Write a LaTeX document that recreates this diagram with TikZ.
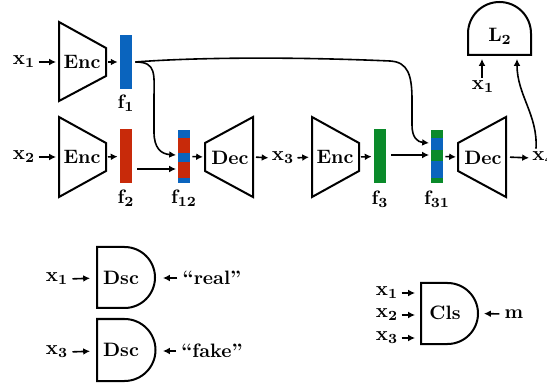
\documentclass[tikz,border=0pt]{standalone}
\usetikzlibrary{arrows.meta}
\definecolor{fblue}{HTML}{0A64BE}
\definecolor{fred}{HTML}{C82A0A}
\definecolor{fgreen}{HTML}{0A8A2A}
\begin{document}
\begin{tikzpicture}[x=0.5pt,y=-0.5pt,
  font=\fontsize{9.7}{11}\selectfont\bfseries\boldmath,
  shp/.style={line width=1pt, line join=miter},
  arr/.style={line width=0.8pt, -{Latex[length=3.4pt,width=3.4pt]}},
  lbl/.style={inner sep=0pt},
  bar/.style={inner sep=0pt, minimum width=6pt, minimum height=27pt, draw=none}]
\useasboundingbox (0,0) rectangle (547,385);

% ---------- shapes ----------
\draw[shp] (59,22) -- (106,48) -- (106,76) -- (59,101) -- cycle;
\draw[shp] (59,117) -- (106,143) -- (106,171) -- (59,197) -- cycle;
\draw[shp] (205,143) -- (253,117) -- (253,197) -- (205,171) -- cycle;
\draw[shp] (312,117) -- (359,143) -- (359,171) -- (312,197) -- cycle;
\draw[shp] (458,143) -- (506,117) -- (506,197) -- (458,171) -- cycle;

\coordinate (enc1in) at (59,62);  \coordinate (enc1out) at (106,62);
\coordinate (enc2in) at (59,157); \coordinate (enc2out) at (106,157);
\coordinate (dec1in) at (205,157); \coordinate (dec1out) at (253,157);
\coordinate (enc3in) at (312,157); \coordinate (enc3out) at (359,157);
\coordinate (dec2in) at (458,157); \coordinate (dec2out) at (506,157);

\node[lbl] (enc1) at (82,62) {Enc};
\node[lbl] (enc2) at (82,157) {Enc};
\node[lbl] (dec1) at (230,158) {Dec};
\node[lbl] (enc3) at (335,157) {Enc};
\node[lbl] (dec2) at (483,158) {Dec};

% ---------- feature bars ----------
\node[bar, fill=fblue] (f1) at (126,62) {};
\node[bar, fill=fred] (f2) at (126,156.5) {};
\node[bar] (f12) at (184,156.5) {};
\fill[fblue] (178,130) rectangle (190,138);
\fill[fred]  (178,138) rectangle (190,153);
\fill[fblue] (178,153) rectangle (190,162);
\fill[fred]  (178,162) rectangle (190,178);
\fill[fblue] (178,178) rectangle (190,183);
\node[bar, fill=fgreen] (f3) at (380,156.5) {};
\node[bar] (f31) at (437,156.5) {};
\fill[fgreen] (431,130) rectangle (443,138);
\fill[fblue]  (431,138) rectangle (443,150);
\fill[fgreen] (431,150) rectangle (443,161);
\fill[fblue]  (431,161) rectangle (443,178);
\fill[fgreen] (431,178) rectangle (443,183);

\node[lbl] (lf1) at (126,103) {f$_1$};
\node[lbl] (lf2) at (126,198) {f$_2$};
\node[lbl] (lf12) at (184,198) {f$_{12}$};
\node[lbl] (lf3) at (380,199) {f$_3$};
\node[lbl] (lf31) at (437,199) {f$_{31}$};

% ---------- input / output labels ----------
\node[lbl] (x1a) at (24,62) {$\mathbf{x}_1$};
\node[lbl] (x2a) at (24,157) {$\mathbf{x}_2$};
\node[lbl] (x3a) at (283,158) {$\mathbf{x}_3$};
\node[lbl, anchor=west] (x4a) at (532,158) {$\mathbf{x}_4$};

\draw[arr, shorten <=1.5pt, shorten >=1.5pt] (x1a.east) -- (enc1in);
\draw[arr, shorten <=1.5pt, shorten >=1.5pt] (x2a.east) -- (enc2in);
\draw[arr, shorten <=1pt, shorten >=1pt] (enc1out) -- (f1.west);
\draw[arr, shorten <=1pt, shorten >=1pt] (enc2out) -- (f2.west);
\draw[arr, shorten <=1pt, shorten >=1pt] (f12.east) -- (dec1in);
\draw[arr, shorten <=1.5pt, shorten >=1.5pt] (dec1out) -- (x3a.west);
\draw[arr, shorten <=1.5pt, shorten >=1.5pt] (x3a.east) -- (enc3in);
\draw[arr, shorten <=1pt, shorten >=1pt] (enc3out) -- (f3.west);
\draw[arr, shorten <=1pt, shorten >=1pt] (f31.east) -- (dec2in);
\draw[arr, shorten <=2pt, shorten >=1.5pt] (dec2out) -- (x4a.west);

\coordinate (f12a) at (176,155);
\coordinate (f12b) at (176,169);
\coordinate (f31a) at (429,143);
\coordinate (f31b) at (429,155);
\draw[arr] (f2.east |- f12b) ++(2.5pt,0) -- (f12b);
\draw[arr] (f3.east |- f31b) ++(2.5pt,0) -- (f31b);

\draw[arr] ([xshift=1.5pt]f1.east) .. controls (157,62) and (154,74) .. (154,100)
  -- (154,132) .. controls (154,148) and (161,154) .. (f12a);
\draw[arr] ([xshift=1.5pt]f1.east) .. controls (200,57) and (300,57) .. (390,61)
  .. controls (408,62) and (412,75) .. (412,100)
  -- (412,125) .. controls (412,137) and (417,142) .. (f31a);

% ---------- L2 ----------
\draw[shp] (468,55) -- (468,33.5) arc[start angle=180, end angle=0, radius=15.75pt] -- (531,55) -- cycle;
\node[lbl] (l2) at (500,36) {L$_2$};
\coordinate (l2a) at (482,56);
\coordinate (l2b) at (517,56);
\node[lbl] (x1b) at (483,87) {$\mathbf{x}_1$};
\draw[arr, shorten <=1.5pt, shorten >=1.5pt] (x1b.north -| l2a) -- (l2a);
\draw[arr, shorten >=1.5pt] ([xshift=2pt,yshift=1.5pt]x4a.north west) .. controls (538,115) and (517,95) .. (l2b);

% ---------- discriminators ----------
\draw[shp] (97,247) -- (124.5,247) arc[start angle=90, end angle=-90, radius=15.25pt] -- (97,308) -- cycle;
\node[lbl] (dsc1) at (121,278) {Dsc};
\coordinate (dsc1in) at (97,278); \coordinate (dsc1out) at (155,278);
\node[lbl] (x1c) at (57,279) {$\mathbf{x}_1$};
\node[lbl] (real) at (212,278) {``real''};
\draw[arr, shorten <=2pt, shorten >=3.5pt] (x1c.east) -- (dsc1in);
\draw[arr, shorten <=2.5pt, shorten >=4pt] (real.west) -- (dsc1out);

\draw[shp] (97,319) -- (124.5,319) arc[start angle=90, end angle=-90, radius=15.5pt] -- (97,381) -- cycle;
\node[lbl] (dsc2) at (121,350) {Dsc};
\coordinate (dsc2in) at (97,351); \coordinate (dsc2out) at (155,351);
\node[lbl] (x3c) at (57,352) {$\mathbf{x}_3$};
\node[lbl] (fake) at (212,351) {``fake''};
\draw[arr, shorten <=2pt, shorten >=3.5pt] (x3c.east) -- (dsc2in);
\draw[arr, shorten <=2.5pt, shorten >=4pt] (fake.west) -- (dsc2out);

% ---------- classifier ----------
\draw[shp] (421,283) -- (447.5,283) arc[start angle=90, end angle=-90, radius=15.25pt] -- (421,344) -- cycle;
\node[lbl] (cls) at (445,313) {Cls};
\coordinate (clsa) at (421,293); \coordinate (clsb) at (421,315); \coordinate (clsc) at (421,338);
\coordinate (clsout) at (478,313.5);
\node[lbl] (x1d) at (387,293) {$\mathbf{x}_1$};
\node[lbl] (x2d) at (387,315) {$\mathbf{x}_2$};
\node[lbl] (x3d) at (387,338) {$\mathbf{x}_3$};
\node[lbl] (m) at (514,314) {m};
\draw[arr, shorten <=1.5pt, shorten >=3pt] (x1d.east) -- (clsa);
\draw[arr, shorten <=1.5pt, shorten >=3pt] (x2d.east) -- (clsb);
\draw[arr, shorten <=1.5pt, shorten >=3pt] (x3d.east) -- (clsc);
\draw[arr, shorten <=2.5pt, shorten >=3pt] (m.west) -- (clsout);
\end{tikzpicture}
\end{document}
